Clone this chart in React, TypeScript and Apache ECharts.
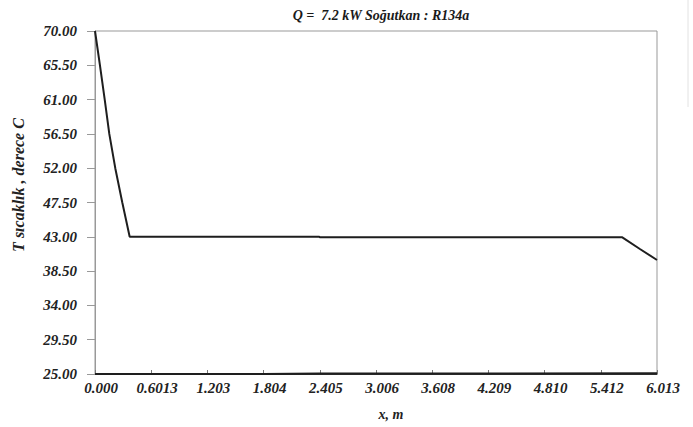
import React, { useEffect, useRef } from "react";
import * as echarts from "echarts";

const titleText = "Q =  7.2 kW Soğutkan : R134a";
const yAxisTitle = "T sıcaklık , derece C";
const xAxisTitle = "x, m";

const xTickLabels = ["0.000", "0.6013", "1.203", "1.804", "2.405", "3.006", "3.608", "4.209", "4.810", "5.412", "6.013"];
const yTickLabels = ["25.00", "29.50", "34.00", "38.50", "43.00", "47.50", "52.00", "56.50", "61.00", "65.50", "70.00"];

const hotX = [0, 0.053, 0.104, 0.153, 0.217, 0.292, 0.371, 2.4, 2.41, 5.642, 5.83, 6.013];
const hotY = [70, 65.5, 61, 56.5, 52, 47.5, 43, 43, 42.93, 42.93, 41.4, 39.96];

const coldX = [0, 1.804, 1.81, 2.405, 2.41, 6.013];
const coldY = [25.0, 25.0, 25.05, 25.05, 25.1, 25.1];

const FONT = "Liberation Serif";

export default function App() {
  const ref = useRef<HTMLDivElement>(null);
  useEffect(() => {
    document.body.style.margin = "0";
    if (!ref.current) return;
    const chart = echarts.init(ref.current, null, { renderer: "svg" });
    const hot = hotX.map((x, i) => [x, hotY[i]]);
    const cold = coldX.map((x, i) => [x, coldY[i]]);
    chart.setOption({
      animation: false,
      backgroundColor: "#ffffff",
      title: {
        text: titleText,
        left: 376,
        textAlign: "center",
        top: 3,
        textStyle: { fontFamily: FONT, fontSize: 14, fontWeight: "bold", fontStyle: "italic", color: "#1a1a1a" },
      },
      grid: {
        left: 95,
        right: 36,
        top: 31,
        bottom: 53,
        show: true,
        borderColor: "#999",
        borderWidth: 1,
        backgroundColor: "transparent",
      },
      xAxis: {
        type: "value",
        min: 0,
        max: 6.013,
        interval: 0.6013,
        axisLine: { show: true, lineStyle: { color: "#333", width: 1 } },
        axisTick: { show: true, inside: true, length: 4, lineStyle: { color: "#777" } },
        splitLine: { show: false },
        axisLabel: {
          margin: 6,
          padding: [0, 0, 0, 12],
          fontFamily: FONT,
          fontSize: 15,
          fontWeight: "bold",
          fontStyle: "italic",
          color: "#222",
          formatter: (_v: number, i: number) => xTickLabels[i] ?? "",
        },
      },
      yAxis: {
        type: "value",
        min: 25,
        max: 70,
        interval: 4.5,
        axisLine: { show: true, lineStyle: { color: "#999", width: 1 } },
        axisTick: { show: true, inside: false, length: 8, lineStyle: { color: "#999" } },
        splitLine: { show: false },
        axisLabel: {
          margin: 18,
          fontFamily: FONT,
          fontSize: 15,
          fontWeight: "bold",
          fontStyle: "italic",
          color: "#222",
          formatter: (_v: number, i: number) => yTickLabels[i] ?? "",
        },
      },
      graphic: [
        {
          type: "text",
          x: 18,
          y: 185,
          rotation: Math.PI / 2,
          style: {
            text: yAxisTitle,
            fontFamily: FONT,
            fontSize: 16,
            fontWeight: "bold",
            fontStyle: "italic",
            fill: "#222",
            align: "center",
            verticalAlign: "middle",
          },
        },
        {
          type: "text",
          x: 391,
          y: 414,
          style: {
            text: xAxisTitle,
            fontFamily: FONT,
            fontSize: 14,
            fontWeight: "bold",
            fontStyle: "italic",
            fill: "#222",
            align: "center",
            verticalAlign: "middle",
          },
        },
        {
          type: "line",
          shape: { x1: 688, y1: 0, x2: 688, y2: 107 },
          style: { stroke: "#e2e2e2", lineWidth: 1 },
        },
      ],
      series: [
        {
          type: "line",
          data: hot,
          showSymbol: false,
          lineStyle: { color: "#1e1e1e", width: 2 },
          z: 5,
        },
        {
          type: "line",
          data: cold,
          showSymbol: false,
          lineStyle: { color: "#1e1e1e", width: 2 },
          z: 5,
        },
      ],
    });
    return () => chart.dispose();
  }, []);
  return <div ref={ref} style={{ width: 693, height: 427 }} />;
}
